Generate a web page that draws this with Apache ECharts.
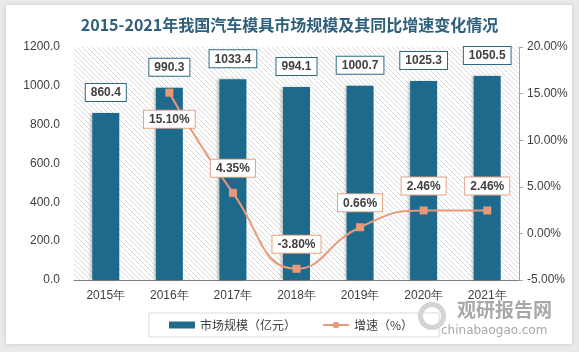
<!DOCTYPE html>
<html>
<head>
<meta charset="utf-8">
<script src="https://cdn.jsdelivr.net/npm/echarts@6/dist/echarts.min.js"></script>
<style>
    html, body { margin: 0; padding: 0; background: #e9e9e9; }
    #chart { width: 579px; height: 352px; }
</style>
</head>
<body>
<div id="chart"></div>
<script>
// data
var years = ['2015年', '2016年', '2017年', '2018年', '2019年', '2020年', '2021年'];
var marketSize = [860.4, 990.3, 1033.4, 994.1, 1000.7, 1025.3, 1050.5];
var growth = [null, 15.10, 4.35, -3.80, 0.66, 2.46, 2.46];
var leftTicks = { min: 0, max: 1200, interval: 200 };
var rightTicks = { min: -5, max: 20, interval: 5 };

var teal = '#1e6a8d';
var orange = '#e9997a';
var textColor = '#404040';

// hatched plot background
function makeHatch() {
    var c = document.createElement('canvas');
    c.width = 5;
    c.height = 5;
    var ctx = c.getContext('2d');
    ctx.fillStyle = '#ffffff';
    ctx.fillRect(0, 0, 5, 5);
    ctx.strokeStyle = '#dadada';
    ctx.lineWidth = 1;
    ctx.beginPath();
    ctx.moveTo(-1, -1); ctx.lineTo(6, 6);
    ctx.moveTo(-1, 4); ctx.lineTo(1, 6);
    ctx.moveTo(4, -1); ctx.lineTo(6, 1);
    ctx.stroke();
    return c;
}

var chart = echarts.init(document.getElementById('chart'));

var lineData = growth.map(function (v, i) {
    if (i === 1) {
        return { value: v, label: { position: 'bottom', distance: 14 } };
    }
    return v;
});

var option = {
    backgroundColor: '#e9e9e9',
    graphic: [
        {
            type: 'rect',
            z: -10,
            shape: { x: 6, y: 5, width: 566, height: 339 },
            style: { fill: '#ffffff', shadowBlur: 4, shadowColor: 'rgba(0,0,0,0.15)' }
        },
        {
            type: 'group',
            left: 418,
            top: 300,
            children: [
                {
                    type: 'ring',
                    shape: { cx: 16, cy: 17, r: 14, r0: 9 },
                    style: { fill: '#d4d4d4' }
                },
                {
                    type: 'text',
                    left: 41,
                    top: 1,
                    style: { text: '观研报告网', font: 'bold 19px "Noto Sans CJK SC"', fill: '#a8a8a8' }
                },
                {
                    type: 'text',
                    left: 25,
                    top: 26,
                    style: { text: 'chinabaogao.com', font: '12px "DejaVu Sans"', fill: '#a8a8a8' }
                }
            ]
        }
    ],
    title: {
        text: '2015-2021年我国汽车模具市场规模及其同比增速变化情况',
        left: 'center',
        top: 12,
        textStyle: {
            fontFamily: '"Noto Sans CJK SC"',
            fontSize: 16,
            fontWeight: 'bold',
            color: '#2e5f7b'
        }
    },
    legend: {
        top: 313,
        left: 149,
        orient: 'horizontal',
        padding: [6, 26, 6, 20],
        borderColor: '#d9d9d9',
        borderWidth: 1,
        itemGap: 26,
        itemWidth: 26,
        itemHeight: 7,
        textStyle: { fontSize: 12, color: textColor, fontFamily: '"Noto Sans CJK SC"' },
        data: [
            { name: '市场规模（亿元）', icon: 'rect' },
            { name: '增速（%）' }
        ]
    },
    grid: {
        left: 74,
        right: 60,
        top: 47,
        bottom: 72,
        show: true,
        borderWidth: 0,
        backgroundColor: { image: makeHatch(), repeat: 'repeat' }
    },
    xAxis: {
        type: 'category',
        data: years,
        axisLine: { lineStyle: { color: '#7f7f7f', width: 1 } },
        axisTick: { show: false },
        axisLabel: { color: textColor, fontSize: 12, margin: 10 }
    },
    yAxis: [
        {
            type: 'value',
            min: leftTicks.min,
            max: leftTicks.max,
            interval: leftTicks.interval,
            splitLine: { show: false },
            axisLine: { show: false },
            axisTick: { show: false },
            axisLabel: {
                color: textColor,
                fontSize: 12,
                margin: 14,
                formatter: function (v) { return v.toFixed(1); }
            }
        },
        {
            type: 'value',
            min: rightTicks.min,
            max: rightTicks.max,
            interval: rightTicks.interval,
            splitLine: { show: false },
            axisLine: { show: true, lineStyle: { color: '#a6a6a6' } },
            axisTick: { show: true, length: 4, lineStyle: { color: '#a6a6a6' } },
            axisLabel: {
                color: textColor,
                fontSize: 12,
                margin: 8,
                formatter: function (v) { return v.toFixed(2) + '%'; }
            }
        }
    ],
    series: [
        {
            name: '市场规模（亿元）',
            type: 'bar',
            data: marketSize,
            barWidth: 27,
            itemStyle: {
                color: teal,
                shadowBlur: 3,
                shadowOffsetX: -2,
                shadowColor: 'rgba(0,0,0,0.25)'
            },
            label: {
                show: true,
                position: 'top',
                distance: 12,
                color: textColor,
                fontSize: 12,
                fontWeight: 'bold',
                backgroundColor: '#ffffff',
                borderColor: '#2e6a86',
                borderWidth: 1,
                padding: [3, 5, 2, 5],
                formatter: function (p) { return p.value.toFixed(1); }
            }
        },
        {
            name: '增速（%）',
            type: 'line',
            yAxisIndex: 1,
            data: lineData,
            smooth: true,
            symbol: 'rect',
            symbolSize: 8,
            lineStyle: { color: orange, width: 2 },
            itemStyle: { color: orange },
            label: {
                show: true,
                position: 'top',
                distance: 12,
                color: textColor,
                fontSize: 12,
                fontWeight: 'bold',
                backgroundColor: '#ffffff',
                borderColor: '#e3a488',
                borderWidth: 1,
                padding: [3, 5, 2, 5],
                formatter: function (p) { return p.value.toFixed(2) + '%'; }
            }
        }
    ]
};

chart.setOption(option);
</script>
</body>
</html>
